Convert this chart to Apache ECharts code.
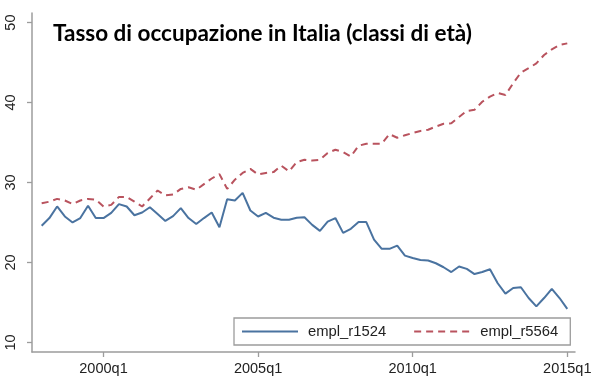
<!DOCTYPE html>
<html>
<head>
<meta charset="utf-8">
<script src="https://cdn.jsdelivr.net/npm/echarts@6/dist/echarts.min.js"></script>
<style>html,body{margin:0;padding:0;background:#fff}#c{width:600px;height:389px}</style>
</head>
<body>
<div id="c"></div>
<script>
// quarters 1998q1 .. 2015q1
const quarters = [];
for (let y = 1998; y <= 2015; y++) for (let q = 1; q <= 4; q++) { if (y === 2015 && q > 1) break; quarters.push(y + 'q' + q); }
const tickQuarters = ['2000q1', '2005q1', '2010q1', '2015q1'];
const yTicks = [10, 20, 30, 40, 50];

const empl_r1524 = [24.6, 25.55, 27.0, 25.75, 25.0, 25.55, 27.1, 25.55, 25.55, 26.2,
  27.3, 27.0, 25.9, 26.25, 26.9, 26.05, 25.2, 25.8, 26.8, 25.55,
  24.8, 25.55, 26.25, 24.4, 27.9, 27.75, 28.7, 26.5, 25.75, 26.2,
  25.6, 25.35, 25.35, 25.6, 25.65, 24.7, 23.95, 25.1, 25.55, 23.7,
  24.2, 25.05, 25.05, 22.85, 21.7, 21.7, 22.1, 20.85, 20.55, 20.3,
  20.25, 19.9, 19.4, 18.8, 19.5, 19.2, 18.55, 18.8, 19.15, 17.4,
  16.1, 16.8, 16.9, 15.55, 14.5, 15.55, 16.7, 15.55, 14.2];

const empl_r5564 = [27.4, 27.6, 27.95, 27.75, 27.3, 27.75, 27.95, 27.85, 27.0, 27.2,
  28.2, 28.2, 27.6, 27.0, 28.0, 29.0, 28.4, 28.5, 29.2, 29.4,
  29.1, 29.8, 30.5, 31.05, 29.2, 30.35, 31.2, 31.7, 31.0, 31.2,
  31.3, 32.1, 31.4, 32.55, 32.85, 32.75, 32.85, 33.7, 34.1, 33.8,
  33.25, 34.6, 34.85, 34.85, 34.85, 36.05, 35.6, 35.9, 36.2, 36.45,
  36.6, 37.0, 37.35, 37.4, 38.2, 38.95, 39.1, 40.1, 40.75, 41.2,
  40.95, 42.4, 43.75, 44.3, 44.9, 45.95, 46.65, 47.2, 47.4];

const titleText = 'Tasso di occupazione in Italia (classi di età)';

const chart = echarts.init(document.getElementById('c'), null, {renderer: 'canvas'});
const axisColor = '#9c9c9c';
const labelColor = '#222';
const tickIdx = tickQuarters.map(t => quarters.indexOf(t));

chart.setOption({
  backgroundColor: '#fff',
  animation: false,
  title: {
    text: titleText,
    left: 48, top: 17,
    textStyle: {fontFamily: 'Lato', fontWeight: 'bold', fontSize: 22.5, color: '#000'}
  },
  grid: {left: 32, right: 25, top: 13, bottom: 37, containLabel: false},
  legend: {
    left: 234, top: 318,
    orient: 'horizontal',
    padding: [6, 12, 6, 7],
    itemWidth: 56, itemHeight: 14, itemGap: 27,
    borderColor: '#9c9c9c', borderWidth: 1.3,
    itemStyle: {color: 'rgba(0,0,0,0)', borderWidth: 0, opacity: 0},
    textStyle: {fontFamily: 'Liberation Sans', fontSize: 14.8, color: labelColor, padding: [0, 0, 0, 5]},
    data: ['empl_r1524', 'empl_r5564']
  },
  xAxis: {
    type: 'value', min: -1.25, max: 69.0,
    splitLine: {show: false},
    axisLine: {show: true, onZero: false, lineStyle: {color: axisColor, width: 1.5}},
    axisTick: {show: true, length: 5, lineStyle: {color: axisColor, width: 1.3}, customValues: tickIdx},
    axisLabel: {customValues: tickIdx, formatter: v => quarters[Math.round(v)] || '', margin: 9,
      fontFamily: 'Liberation Sans', fontSize: 14.5, color: labelColor}
  },
  yAxis: {
    type: 'value', min: 8.8, max: 51.2,
    splitLine: {show: false},
    axisLine: {show: true, onZero: false, lineStyle: {color: axisColor, width: 1.5}},
    axisTick: {show: true, length: 5, lineStyle: {color: axisColor, width: 1.3}, customValues: yTicks},
    axisLabel: {customValues: yTicks, rotate: 90, margin: 14,
      fontFamily: 'Liberation Sans', fontSize: 14.5, color: labelColor}
  },
  series: [
    {name: 'empl_r1524', type: 'line', symbol: 'none', showSymbol: false,
      data: empl_r1524.map((v, i) => [i, v]),
      lineStyle: {color: '#4a73a0', width: 2},
      itemStyle: {color: '#4a73a0'}},
    {name: 'empl_r5564', type: 'line', symbol: 'none', showSymbol: false,
      data: empl_r5564.map((v, i) => [i, v]),
      lineStyle: {color: '#b9535e', width: 2, type: [7, 5]},
      itemStyle: {color: '#b9535e'}}
  ]
});
</script>
</body>
</html>
